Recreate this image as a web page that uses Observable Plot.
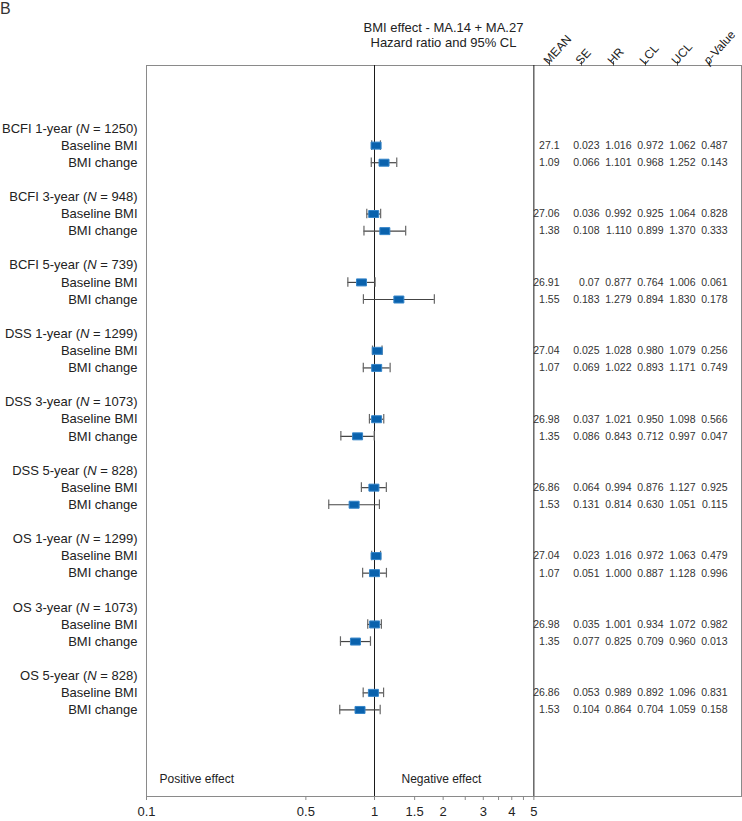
<!DOCTYPE html>
<html><head><meta charset="utf-8">
<script src="https://cdn.jsdelivr.net/npm/d3@7"></script>
<script src="https://cdn.jsdelivr.net/npm/@observablehq/plot@0.6"></script>
<style>
body{margin:0;background:#fff;font-family:"Liberation Sans",Arial,sans-serif;color:#222;}
#wrap{position:relative;width:742px;height:821px;overflow:hidden;}
#wrap svg{position:absolute;left:0;top:0;}
#tag{position:absolute;left:0;top:1px;font-size:16px;line-height:16px;color:#333;}
#title{position:absolute;left:146px;width:595px;top:20px;text-align:center;font-size:13px;line-height:15px;color:#222;}
</style></head><body><div id="wrap">
<div id="tag">B</div>
<div id="title">BMI effect - MA.14 + MA.27<br>Hazard ratio and 95% CL</div>
</div>
<script>
// ---- data ----
const groups = ["BCFI 1-year","BCFI 3-year","BCFI 5-year","DSS 1-year","DSS 3-year","DSS 5-year","OS 1-year","OS 3-year","OS 5-year"];
const groupN = [1250, 948, 739, 1299, 1073, 828, 1299, 1073, 828];
const items = ["Baseline BMI","BMI change"];
// order: group by group, baseline then change
const meanVals = [27.1,1.09, 27.06,1.38, 26.91,1.55, 27.04,1.07, 26.98,1.35, 26.86,1.53, 27.04,1.07, 26.98,1.35, 26.86,1.53];
const seVals   = [0.023,0.066, 0.036,0.108, 0.07,0.183, 0.025,0.069, 0.037,0.086, 0.064,0.131, 0.023,0.051, 0.035,0.077, 0.053,0.104];
const hrVals   = [1.016,1.101, 0.992,1.110, 0.877,1.279, 1.028,1.022, 1.021,0.843, 0.994,0.814, 1.016,1.000, 1.001,0.825, 0.989,0.864];
const lclVals  = [0.972,0.968, 0.925,0.899, 0.764,0.894, 0.980,0.893, 0.950,0.712, 0.876,0.630, 0.972,0.887, 0.934,0.709, 0.892,0.704];
const uclVals  = [1.062,1.252, 1.064,1.370, 1.006,1.830, 1.079,1.171, 1.098,0.997, 1.127,1.051, 1.063,1.128, 1.072,0.960, 1.096,1.059];
const pVals    = [0.487,0.143, 0.828,0.333, 0.061,0.178, 0.256,0.749, 0.566,0.047, 0.925,0.115, 0.479,0.996, 0.982,0.013, 0.831,0.158];
const columns = ["MEAN","SE","HR","LCL","UCL","p-Value"];
const xTicks = [0.1, 0.5, 1, 1.5, 2, 2.5, 3, 3.5, 4, 4.5, 5];
const xTickLabels = ["0.1", "0.5", "1", "1.5", "2", "3", "4", "5"];
const refLines = [1, 5];
const effectLabels = ["Positive effect", "Negative effect"];
const effectAt = [0.1, 1];

// ---- scale settings ----
const xDomain = [0.1, 40.7];
const yDomain = [-3.684, 39.06];
const font = '"Liberation Sans", Arial, sans-serif';

// ---- build tables ----
const labelRows = [];
const est = [];
groups.forEach((g, gi) => {
  const r0 = gi * 4;
  labelRows.push({row: r0, label: `${g} (N = ${groupN[gi]})`});
  items.forEach((it, k) => {
    const i = gi * 2 + k;
    labelRows.push({row: r0 + 1 + k, label: it});
    est.push({row: r0 + 1 + k, mean: meanVals[i], se: seVals[i], hr: hrVals[i], lcl: lclVals[i], ucl: uclVals[i], p: pVals[i]});
  });
});
const cells = [];
est.forEach(d => {
  cells.push({col: "MEAN", row: d.row, v: String(d.mean)});
  cells.push({col: "SE", row: d.row, v: String(d.se)});
  cells.push({col: "HR", row: d.row, v: d.hr.toFixed(3)});
  cells.push({col: "LCL", row: d.row, v: d.lcl.toFixed(3)});
  cells.push({col: "UCL", row: d.row, v: d.ucl.toFixed(3)});
  cells.push({col: "p-Value", row: d.row, v: d.p.toFixed(3)});
});

const boxSymbol = {draw(ctx) { ctx.rect(-5, -3.5, 10, 7); }};
const capHalf = 0.28;

const main = Plot.plot({
  width: 742, height: 821,
  marginLeft: 146, marginRight: 1, marginTop: 65, marginBottom: 25,
  x: {type: "log", domain: xDomain},
  y: {domain: yDomain, reverse: true, axis: null},
  style: {fontFamily: font, fontSize: "13px", color: "#222", background: "transparent"},
  marks: [
    Plot.frame({stroke: "#8a8a8a"}),
    Plot.ruleX(refLines, {stroke: "#1a1a1a", strokeWidth: 1}),
    Plot.ruleY(est, {y: "row", x1: "lcl", x2: "ucl", stroke: "#444", strokeWidth: 1.2}),
    Plot.ruleX(est, {x: "lcl", y1: d => d.row - capHalf, y2: d => d.row + capHalf, stroke: "#666", strokeWidth: 1.2}),
    Plot.ruleX(est, {x: "ucl", y1: d => d.row - capHalf, y2: d => d.row + capHalf, stroke: "#666", strokeWidth: 1.2}),
    Plot.dot(est, {x: "hr", y: "row", symbol: boxSymbol, r: 5, fill: "#0a62ad", stroke: "#3585c9", strokeWidth: 1}),
    Plot.text(labelRows, {y: "row", text: "label", frameAnchor: "left", textAnchor: "end", dx: -9, fontSize: 13, fill: "#222"}),
    Plot.text([effectLabels[0]], {x: [effectAt[0]], text: d => d, frameAnchor: "bottom", textAnchor: "start", dx: 13, dy: -14, fontSize: 12, fill: "#222"}),
    Plot.text([effectLabels[1]], {x: [effectAt[1]], text: d => d, frameAnchor: "bottom", textAnchor: "start", dx: 27, dy: -14, fontSize: 12, fill: "#222"}),
    Plot.axisX({ticks: xTicks, tickFormat: () => "", tickSize: 4, stroke: "#888"}),
    Plot.text(xTickLabels, {x: d => +d, text: d => d, frameAnchor: "bottom", lineAnchor: "top", dy: 10, fontSize: 13, fill: "#222"})
  ]
});

const table = Plot.plot({
  width: 742, height: 821,
  marginLeft: 533, marginRight: 1, marginTop: 65, marginBottom: 25,
  x: {type: "point", domain: columns, range: [547, 711], padding: 0, label: null},
  y: {domain: yDomain, reverse: true, axis: null},
  style: {fontFamily: font, fontSize: "10.5px", color: "#333", background: "transparent"},
  marks: [
    Plot.axisX({anchor: "top", tickSize: 5, tickFormat: () => "", stroke: "#555", label: null}),
    Plot.text(columns, {x: d => d, text: d => d, frameAnchor: "top", textAnchor: "start", rotate: -48, dx: -7, dy: -6, fontSize: 12, fill: "#222"}),
    Plot.text(cells.filter(c => c.col === "MEAN"), {x: "col", y: "row", text: "v", textAnchor: "end", dx: 10, fontSize: 10.5, fill: "#333"}),
    Plot.text(cells.filter(c => c.col !== "MEAN"), {x: "col", y: "row", text: "v", textAnchor: "end", dx: 18, fontSize: 10.5, fill: "#333"})
  ]
});

const wrap = document.getElementById("wrap");
wrap.appendChild(main);
wrap.appendChild(table);

// italic N and p
main.querySelectorAll("text").forEach(t => {
  const s = t.textContent;
  const m = s.match(/^(.*)\(N = (\d+)\)$/);
  if (m) t.innerHTML = `${m[1]}(<tspan font-style="italic">N</tspan> = ${m[2]})`;
});
table.querySelectorAll("text").forEach(t => {
  if (t.textContent === "p-Value") t.innerHTML = `<tspan font-style="italic">p</tspan>-Value`;
});
</script>
</body></html>
